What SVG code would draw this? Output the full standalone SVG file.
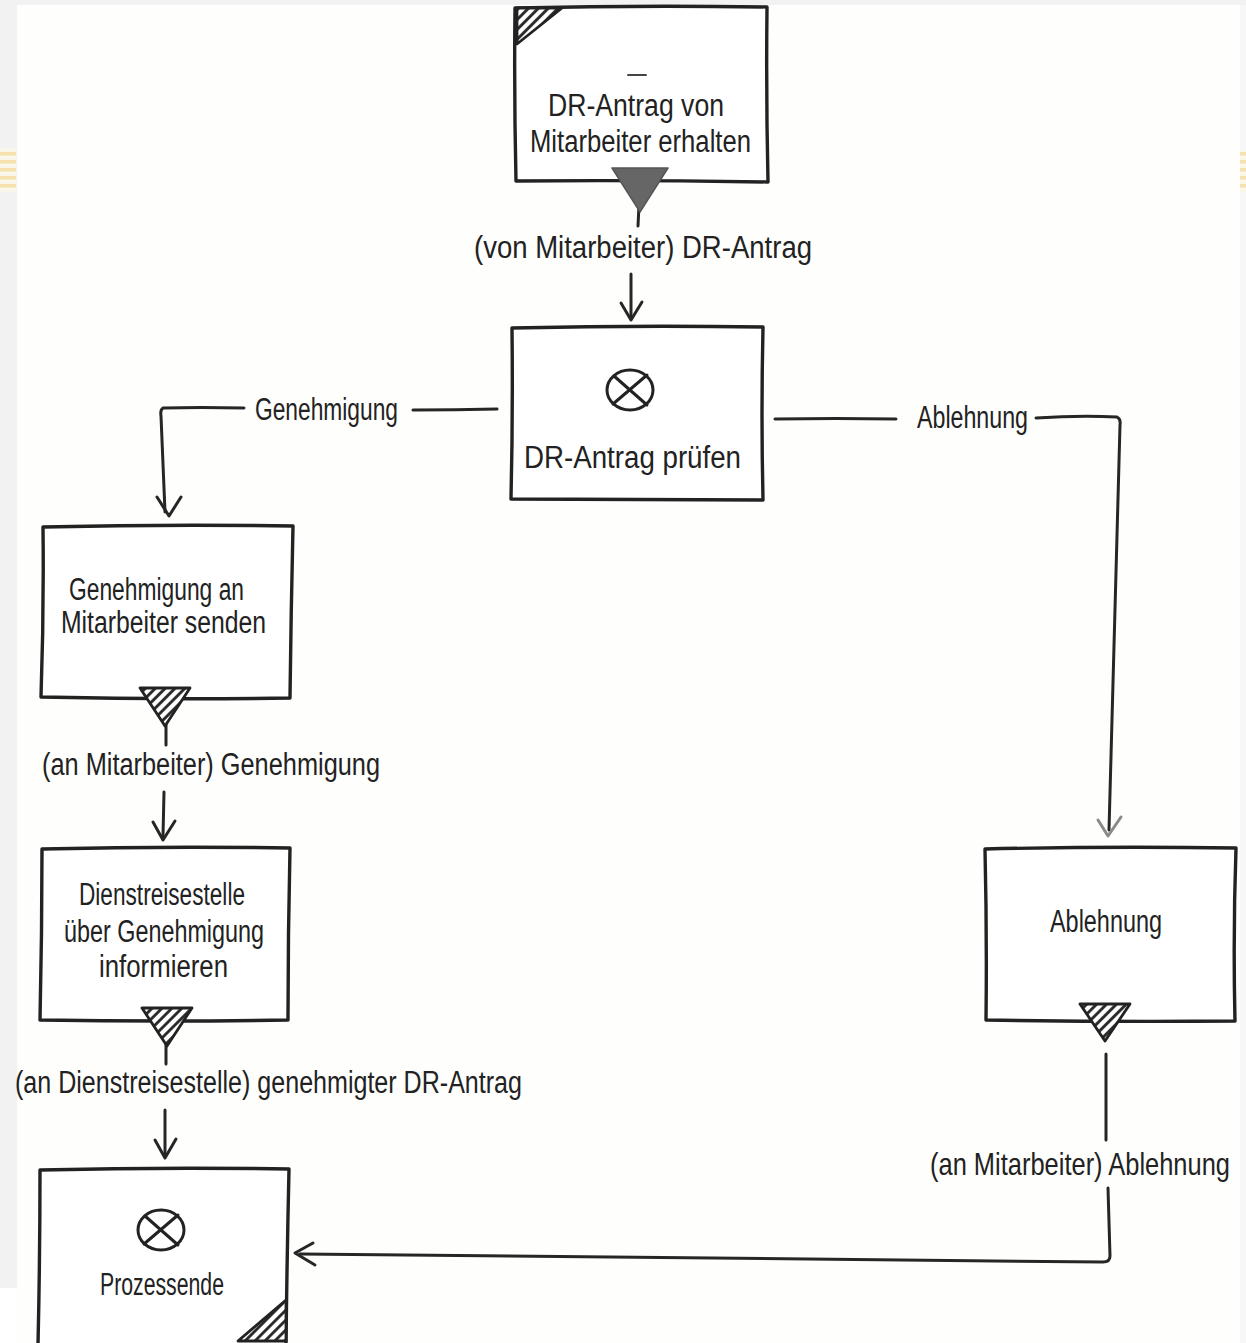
<svg xmlns="http://www.w3.org/2000/svg" width="1246" height="1343" viewBox="0 0 1246 1343">
  <defs>
    <style>
      .box { fill: #ffffff; stroke: #222222; stroke-width: 3.4; stroke-linejoin: round; stroke-linecap: round; }
      .wire { fill: none; stroke: #262626; stroke-width: 3; stroke-linecap: round; stroke-linejoin: round; }
      .head { fill: none; stroke: #262626; stroke-width: 3; stroke-linecap: round; stroke-linejoin: round; }
      .txt { font-family: "Liberation Sans", "DejaVu Sans", sans-serif; font-size: 31px; fill: #222222; }
      .lbl { font-family: "Liberation Sans", "DejaVu Sans", sans-serif; font-size: 31px; fill: #222222; }
      .hatchfill { fill: url(#hatch); stroke: #222222; stroke-width: 2.8; stroke-linejoin: round; }
      .sym { fill: none; stroke: #222222; stroke-width: 3; stroke-linecap: round; }
    </style>
    <pattern id="hatch" patternUnits="userSpaceOnUse" width="7" height="7" patternTransform="rotate(45)">
      <rect width="7" height="7" fill="#ffffff"/>
      <line x1="1.5" y1="0" x2="1.5" y2="7" stroke="#222222" stroke-width="2.8"/>
    </pattern>
    <pattern id="stripes" patternUnits="userSpaceOnUse" width="16" height="8">
      <rect width="16" height="8" fill="#fbf6ea"/>
      <rect y="0" width="16" height="3.5" fill="#f6e1ad"/>
    </pattern>
  </defs>

  <!-- page backdrop -->
  <rect x="0" y="0" width="1246" height="1343" fill="#f2f2f2"/>
  <rect x="0" y="1288" width="17" height="55" fill="#ffffff"/>
  <rect x="17" y="5" width="1223" height="1338" fill="#fefefd"/>
  <rect x="1240" y="5" width="6" height="1338" fill="#f7f7f7"/>
  <rect x="0" y="148" width="16" height="44" fill="url(#stripes)"/>
  <rect x="1240" y="150" width="6" height="42" fill="url(#stripes)"/>

  <!-- connectors -->
  <g id="connectors">
    <!-- start event to check -->
    <path class="wire" d="M639,205 L638,226"/>
    <path class="wire" d="M631,274 L631,319"/>
    <path class="head" d="M621,303 L631,320 L642,302"/>

    <!-- approval branch -->
    <path class="wire" d="M497,409 Q455,410 413,410"/>
    <path class="wire" d="M244,408 Q200,407 163,408 Q160,410 161,416 L165,512"/>
    <path class="head" d="M157,497 L169,516 L181,497"/>

    <!-- rejection branch -->
    <path class="wire" d="M775,419 Q836,418 896,419"/>
    <path class="wire" d="M1036,418 Q1080,415 1117,417 Q1121,419 1120,425 L1109,830"/>
    <path d="M1098,820 L1108,836 L1121,817" fill="none" stroke="#8a8a8a" stroke-width="3" stroke-linecap="round" stroke-linejoin="round"/>

    <!-- approval notification -->
    <path class="wire" d="M166,724 L166,745"/>
    <path class="wire" d="M164,792 L163,836"/>
    <path class="head" d="M153,822 L163,840 L175,821"/>

    <!-- travel office notification -->
    <path class="wire" d="M166,1045 L166,1064"/>
    <path class="wire" d="M165,1110 L165,1155"/>
    <path class="head" d="M155,1140 L165,1158 L176,1139"/>

    <!-- rejection notification -->
    <path class="wire" d="M1106,1054 L1106,1140"/>
    <path class="wire" d="M1108,1188 L1110,1256 Q1110,1262 1103,1262 L300,1254"/>
    <path class="head" d="M313,1243 L295,1253 L315,1265"/>
  </g>

  <!-- start event: request received -->
  <g id="node-received">
    <path class="box" d="M515,8 Q640,5 767,7 Q766,95 768,182 Q640,180 516,181 Q514,95 515,8 Z"/>
    <path class="hatchfill" d="M517,8 L562,8 L517,44 Z"/>
    <path d="M628,75 L646,75" fill="none" stroke="#444444" stroke-width="2" stroke-linecap="round"/>
    <text class="txt" x="548" y="116" textLength="176" lengthAdjust="spacingAndGlyphs">DR-Antrag von</text>
    <text class="txt" x="530" y="152" textLength="221" lengthAdjust="spacingAndGlyphs">Mitarbeiter erhalten</text>
    <path d="M612,168 L668,168 L640,212 Z" fill="#666666" stroke="#555555" stroke-width="1.5" stroke-linejoin="round"/>
  </g>

  <!-- label: incoming request -->
  <g id="label-request">
    <text class="lbl" x="474" y="258" textLength="338" lengthAdjust="spacingAndGlyphs">(von Mitarbeiter) DR-Antrag</text>
  </g>

  <!-- task: check request -->
  <g id="node-check">
    <path class="box" d="M512,328 Q638,325 763,327 Q761,415 763,500 Q637,499 511,499 Q513,415 512,328 Z"/>
    <ellipse class="sym" cx="630" cy="390" rx="23" ry="20"/>
    <path class="sym" d="M614,376 L647,405 M647,375 L613,404"/>
    <text class="txt" x="524" y="468" textLength="217" lengthAdjust="spacingAndGlyphs">DR-Antrag prüfen</text>
  </g>

  <!-- gateway labels -->
  <g id="label-approval">
    <text class="lbl" x="255" y="420" textLength="143" lengthAdjust="spacingAndGlyphs">Genehmigung</text>
  </g>
  <g id="label-rejection">
    <text class="lbl" x="917" y="428" textLength="111" lengthAdjust="spacingAndGlyphs">Ablehnung</text>
  </g>

  <!-- task: send approval -->
  <g id="node-send-approval">
    <path class="box" d="M43,527 Q168,524 293,526 Q291,612 290,698 Q165,700 41,697 Q44,612 43,527 Z"/>
    <text class="txt" x="69" y="600" textLength="175" lengthAdjust="spacingAndGlyphs">Genehmigung an</text>
    <text class="txt" x="61" y="633" textLength="205" lengthAdjust="spacingAndGlyphs">Mitarbeiter senden</text>
    <path class="hatchfill" d="M140,688 L190,688 L165,726 Z"/>
  </g>

  <g id="label-approval-msg">
    <text class="lbl" x="42" y="775" textLength="338" lengthAdjust="spacingAndGlyphs">(an Mitarbeiter) Genehmigung</text>
  </g>

  <!-- task: inform travel office -->
  <g id="node-inform">
    <path class="box" d="M42,849 Q166,846 290,848 Q288,934 288,1020 Q164,1022 40,1020 Q42,934 42,849 Z"/>
    <text class="txt" x="79" y="905" textLength="166" lengthAdjust="spacingAndGlyphs">Dienstreisestelle</text>
    <text class="txt" x="64" y="942" textLength="200" lengthAdjust="spacingAndGlyphs">über Genehmigung</text>
    <text class="txt" x="99" y="977" textLength="129" lengthAdjust="spacingAndGlyphs">informieren</text>
    <path class="hatchfill" d="M142,1008 L192,1008 L167,1046 Z"/>
  </g>

  <g id="label-approved-request">
    <text class="lbl" x="15" y="1093" textLength="507" lengthAdjust="spacingAndGlyphs">(an Dienstreisestelle) genehmigter DR-Antrag</text>
  </g>

  <!-- end event -->
  <g id="node-end">
    <path class="box" d="M40,1170 Q164,1167 289,1169 Q287,1256 286,1345 L38,1345 Q40,1256 40,1170 Z"/>
    <ellipse class="sym" cx="161" cy="1230" rx="23" ry="20"/>
    <path class="sym" d="M145,1216 L178,1245 M178,1215 L144,1244"/>
    <text class="txt" x="100" y="1295" textLength="124" lengthAdjust="spacingAndGlyphs">Prozessende</text>
    <path class="hatchfill" d="M286,1300 L286,1341 L238,1341 Z"/>
  </g>

  <!-- task: rejection -->
  <g id="node-rejection">
    <path class="box" d="M985,849 Q1110,846 1236,848 Q1233,934 1235,1021 Q1110,1022 986,1020 Q987,934 985,849 Z"/>
    <text class="txt" x="1050" y="932" textLength="112" lengthAdjust="spacingAndGlyphs">Ablehnung</text>
    <path class="hatchfill" d="M1080,1004 L1130,1004 L1105,1041 Z"/>
  </g>

  <!-- narrow label near the right margin: smaller size, stretched vertically -->
  <g id="label-rejection-msg">
    <text class="lbl" transform="translate(930,1175) scale(1,1.18)" x="0" y="0" style="font-size:26px" textLength="300" lengthAdjust="spacingAndGlyphs">(an Mitarbeiter) Ablehnung</text>
  </g>
</svg>
